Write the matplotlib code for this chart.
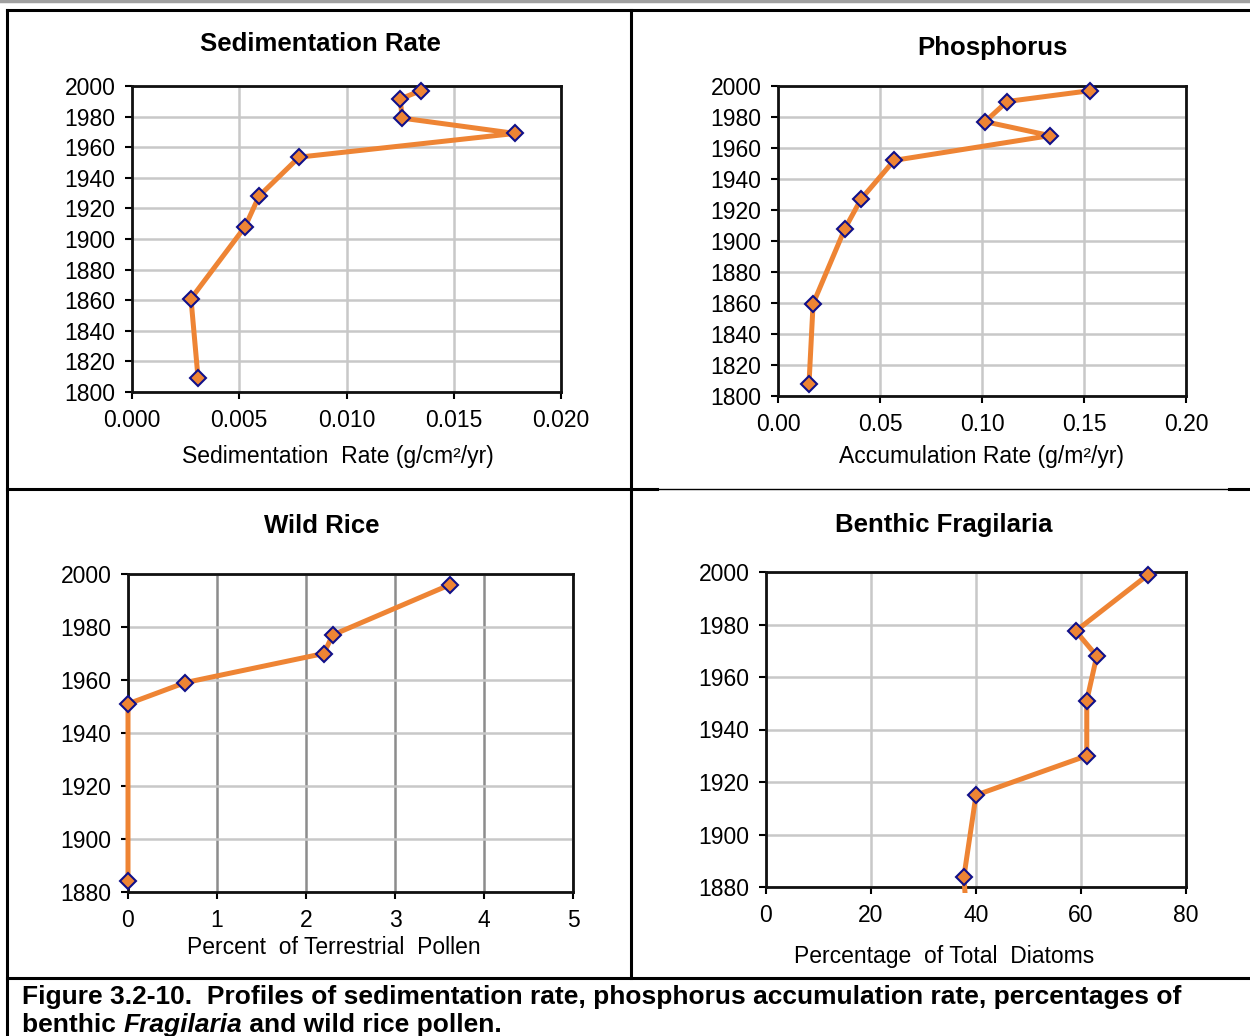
import matplotlib
matplotlib.use('Agg')
import matplotlib.pyplot as plt
from matplotlib.lines import Line2D
from matplotlib.ticker import FormatStrFormatter
from matplotlib.transforms import Bbox, TransformedBbox

plt.rcParams['font.family'] = ['Liberation Sans', 'DejaVu Sans']

# data
sed_years = [1997, 1991.5, 1979, 1969, 1953.5, 1928, 1908, 1861, 1809]
sed_rate = [0.01347, 0.0125, 0.0126, 0.01786, 0.00779, 0.00592, 0.00527, 0.00275, 0.00308]

phos_years = [1997, 1990, 1977, 1968, 1952, 1927, 1908, 1859.5, 1808]
phos_rate = [0.153, 0.1123, 0.1015, 0.1333, 0.0569, 0.0407, 0.0328, 0.0172, 0.0152]

rice_years = [1996, 1977, 1970, 1959, 1951, 1884]
rice_pct = [3.62, 2.30, 2.20, 0.64, 0.0, 0.0]

frag_years = [1999, 1977.5, 1968, 1951, 1930, 1915, 1884, 1860]
frag_pct = [72.8, 59.0, 63.0, 61.1, 61.1, 40.0, 37.7, 38.5]

W, H = 1250, 1036
fig = plt.figure(figsize=(W / 100, H / 100), dpi=100)

orange = '#EE8434'
navy = '#10108A'


def add_ax(l, t, r, b):
    return fig.add_axes([l / W, 1 - b / H, (r - l) / W, (b - t) / H])


def ftext(x, y, s, **kw):
    return fig.text(x / W, 1 - y / H, s, ha='center', va='center', **kw)


def style(ax, xlim, xticks, ylim, yticks, fmt, vgrid='#c8c8c8'):
    ax.set_xlim(*xlim)
    ax.set_ylim(*ylim)
    ax.set_xticks(xticks)
    ax.set_yticks(yticks)
    if fmt:
        ax.xaxis.set_major_formatter(FormatStrFormatter(fmt))
    ax.tick_params(direction='out', length=5, width=1.5, labelsize=16.5, pad=7)
    for sp in ax.spines.values():
        sp.set_linewidth(2)
        sp.set_color('#111111')
    ax.grid(axis='y', color='#c8c8c8', linewidth=1.8)
    ax.grid(axis='x', color=vgrid, linewidth=1.8)
    ax.set_axisbelow(True)


def profile(ax, x, y, extend=0.0):
    ln, = ax.plot(x, y, color=orange, linewidth=3.6, zorder=3)
    if extend:
        ln.set_clip_box(TransformedBbox(Bbox([[0, -extend], [1, 1]]), ax.transAxes))
    else:
        ln.set_clip_on(False)
    shown = [(a, b) for a, b in zip(x, y) if ax.get_ylim()[0] <= b or not extend]
    ax.plot([p[0] for p in shown], [p[1] for p in shown], linestyle='none',
            marker='D', markersize=8, markerfacecolor=orange, markeredgecolor=navy,
            markeredgewidth=1.5, zorder=4, clip_on=False)


# Sedimentation rate
ax1 = add_ax(132, 86, 561, 392)
style(ax1, (0, 0.02), [0, 0.005, 0.010, 0.015, 0.020], (1800, 2000),
      range(1800, 2001, 20), '%.3f')
profile(ax1, sed_rate, sed_years)
ftext(320, 44, 'Sedimentation Rate', fontsize=18.5, fontweight='bold')
ftext(338, 456, 'Sedimentation  Rate (g/cm²/yr)', fontsize=16.5)

# Phosphorus
ax2 = add_ax(778, 86, 1186, 396)
style(ax2, (0, 0.2), [0, 0.05, 0.10, 0.15, 0.20], (1800, 2000),
      range(1800, 2001, 20), '%.2f')
profile(ax2, phos_rate, phos_years)
ftext(992, 48, 'Phosphorus', fontsize=18.5, fontweight='bold')
ftext(981, 457, 'Accumulation Rate (g/m²/yr)', fontsize=16.5)

# Wild rice
ax3 = add_ax(128, 574, 573, 892)
style(ax3, (0, 5), range(0, 6), (1880, 2000), range(1880, 2001, 20), None,
      vgrid='#8c8c8c')
profile(ax3, rice_pct, rice_years)
ftext(322, 526, 'Wild Rice', fontsize=18.5, fontweight='bold')
ftext(334, 948, 'Percent  of Terrestrial  Pollen', fontsize=16.5)

# Benthic Fragilaria
ax4 = add_ax(766, 572, 1186, 887)
style(ax4, (0, 80), range(0, 81, 20), (1880, 2000), range(1880, 2001, 20), None)
profile(ax4, frag_pct, frag_years, extend=0.02)
ftext(944, 525, 'Benthic Fragilaria', fontsize=18.5, fontweight='bold')
ftext(944, 956, 'Percentage  of Total  Diatoms', fontsize=16.5)


# table borders
def hline(y, x0, x1, lw=2.2, color='black'):
    fig.add_artist(Line2D([x0 / W, x1 / W], [1 - y / H, 1 - y / H], color=color, linewidth=lw))


def vline(x, y0, y1, lw=2.2):
    fig.add_artist(Line2D([x / W, x / W], [1 - y0 / H, 1 - y1 / H], color='black', linewidth=lw))


hline(1, 0, W, lw=2.5, color='#a0a0a0')
hline(10, 7, W)
hline(489, 7, 657)
hline(489, 657, 1229, lw=1.0)
hline(489, 1229, W)
hline(978, 7, W)
vline(7, 10, H)
vline(631, 10, 978)

# caption
cap_kw = dict(fontsize=19, fontweight='bold', va='center', ha='left')
fig.text(22 / W, 1 - 997 / H,
         'Figure 3.2-10.  Profiles of sedimentation rate, phosphorus accumulation rate, percentages of',
         **cap_kw)
renderer = fig.canvas.get_renderer()
x = 22 / W
for piece, st in [('benthic ', 'normal'), ('Fragilaria', 'italic'), (' and wild rice pollen.', 'normal')]:
    t = fig.text(x, 1 - 1025 / H, piece, fontstyle=st, **cap_kw)
    bb = t.get_window_extent(renderer)
    x += bb.width / W

fig.savefig('out.png', dpi=100)
